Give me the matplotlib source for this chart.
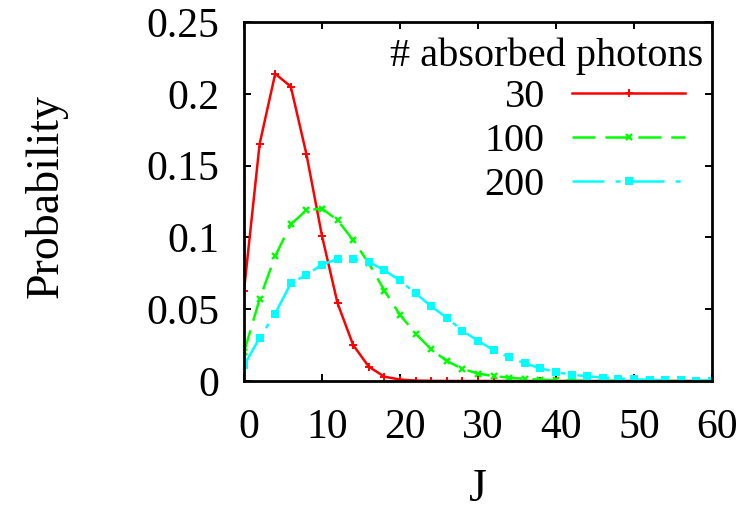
import matplotlib
matplotlib.use("Agg")
import matplotlib.pyplot as plt
import matplotlib.transforms as mtransforms
import numpy as np

plt.rcParams['font.family'] = ['Liberation Serif', 'DejaVu Serif']
plt.rcParams['lines.scale_dashes'] = False

J = list(range(0, 61, 2))
p30 = [0.063, 0.165, 0.214, 0.205, 0.158, 0.101, 0.054, 0.025, 0.010, 0.003,
       0.001, 0.0003, 0.0001, 0.0, 0.0, 0.0, 0.0, 0.0, 0.0, 0.0,
       0.0, 0.0, 0.0, 0.0, 0.0, 0.0, 0.0, 0.0, 0.0, 0.0, 0.0]
p100 = [0.020, 0.057, 0.087, 0.109, 0.119, 0.120, 0.112, 0.098, 0.082, 0.063,
        0.046, 0.033, 0.022, 0.014, 0.0084, 0.0052, 0.0034, 0.0023, 0.0015, 0.0009,
        0.0005, 0.0003, 0.0002, 0.0001, 0.0001, 0.0, 0.0, 0.0, 0.0, 0.0, 0.0]
p200 = [0.011, 0.030, 0.047, 0.068, 0.074, 0.081, 0.085, 0.085, 0.083, 0.077,
        0.070, 0.061, 0.052, 0.044, 0.035, 0.028, 0.0215, 0.0165, 0.0123, 0.0088,
        0.0063, 0.0044, 0.0033, 0.0023, 0.0017, 0.0012, 0.0008, 0.0005, 0.0004, 0.0003, 0.0002]
labels = ['30', '100', '200']
legend_title = '# absorbed photons'
xticks = [0, 10, 20, 30, 40, 50, 60]
yticks = [0, 0.05, 0.1, 0.15, 0.2, 0.25]
yticklabels = ['0', '0.05', '0.1', '0.15', '0.2', '0.25']

W, H = 749, 512
fig = plt.figure(figsize=(W / 100, H / 100), dpi=100)
ax = fig.add_axes([244 / W, 1 - 381 / H, (712 - 244) / W, (381 - 22) / H])

lw = 1.8
ax.plot(J, p30, color='#ff0000', lw=lw, marker='+', ms=5.5, mew=1.4,
        label=labels[0])
ax.plot(J, p100, color='#00ff00', lw=lw, marker='x', ms=5, mew=1.7,
        dashes=(16.5, 7.2), label=labels[1])
ax.plot(J, p200, color='#00ffff', lw=lw, marker='s', ms=5.5, mew=0,
        dashes=(23, 8, 3.6, 8.6), label=labels[2])

ax.set_xlim(0, 60)
ax.set_ylim(0, 0.25)
ax.set_xticks(xticks)
ax.set_xticklabels([str(v) for v in xticks])
ax.set_yticks(yticks)
ax.set_yticklabels(yticklabels)
ax.tick_params(direction='in', length=5, width=1.4, top=True, right=True,
               labelsize=30)
ax.tick_params(axis='x', pad=20)
ax.tick_params(axis='y', pad=18)
for s in ax.spines.values():
    s.set_linewidth(2.0)

# shift x tick labels slightly right like the reference
off = mtransforms.ScaledTranslation(5 / 100, 0, fig.dpi_scale_trans)
for t in ax.get_xticklabels():
    t.set_transform(t.get_transform() + off)

fig.text(478 / W, 1 - 490 / H, 'J', fontsize=33, ha='center', va='center')
fig.text(46 / W, 1 - 196 / H, 'Probability', fontsize=33, ha='center',
         va='center', rotation=90)

leg = ax.legend(loc='upper right', bbox_to_anchor=(685 / W, 1 - 79 / H),
                bbox_transform=fig.transFigure, frameon=False, fontsize=29,
                markerfirst=False, handlelength=2.8, handletextpad=0.68,
                labelspacing=0.17, borderpad=0, borderaxespad=0)
fig.text(703 / W, 1 - 56 / H, legend_title, fontsize=29, ha='right',
         va='center')

fig.savefig('out.png', dpi=100)
